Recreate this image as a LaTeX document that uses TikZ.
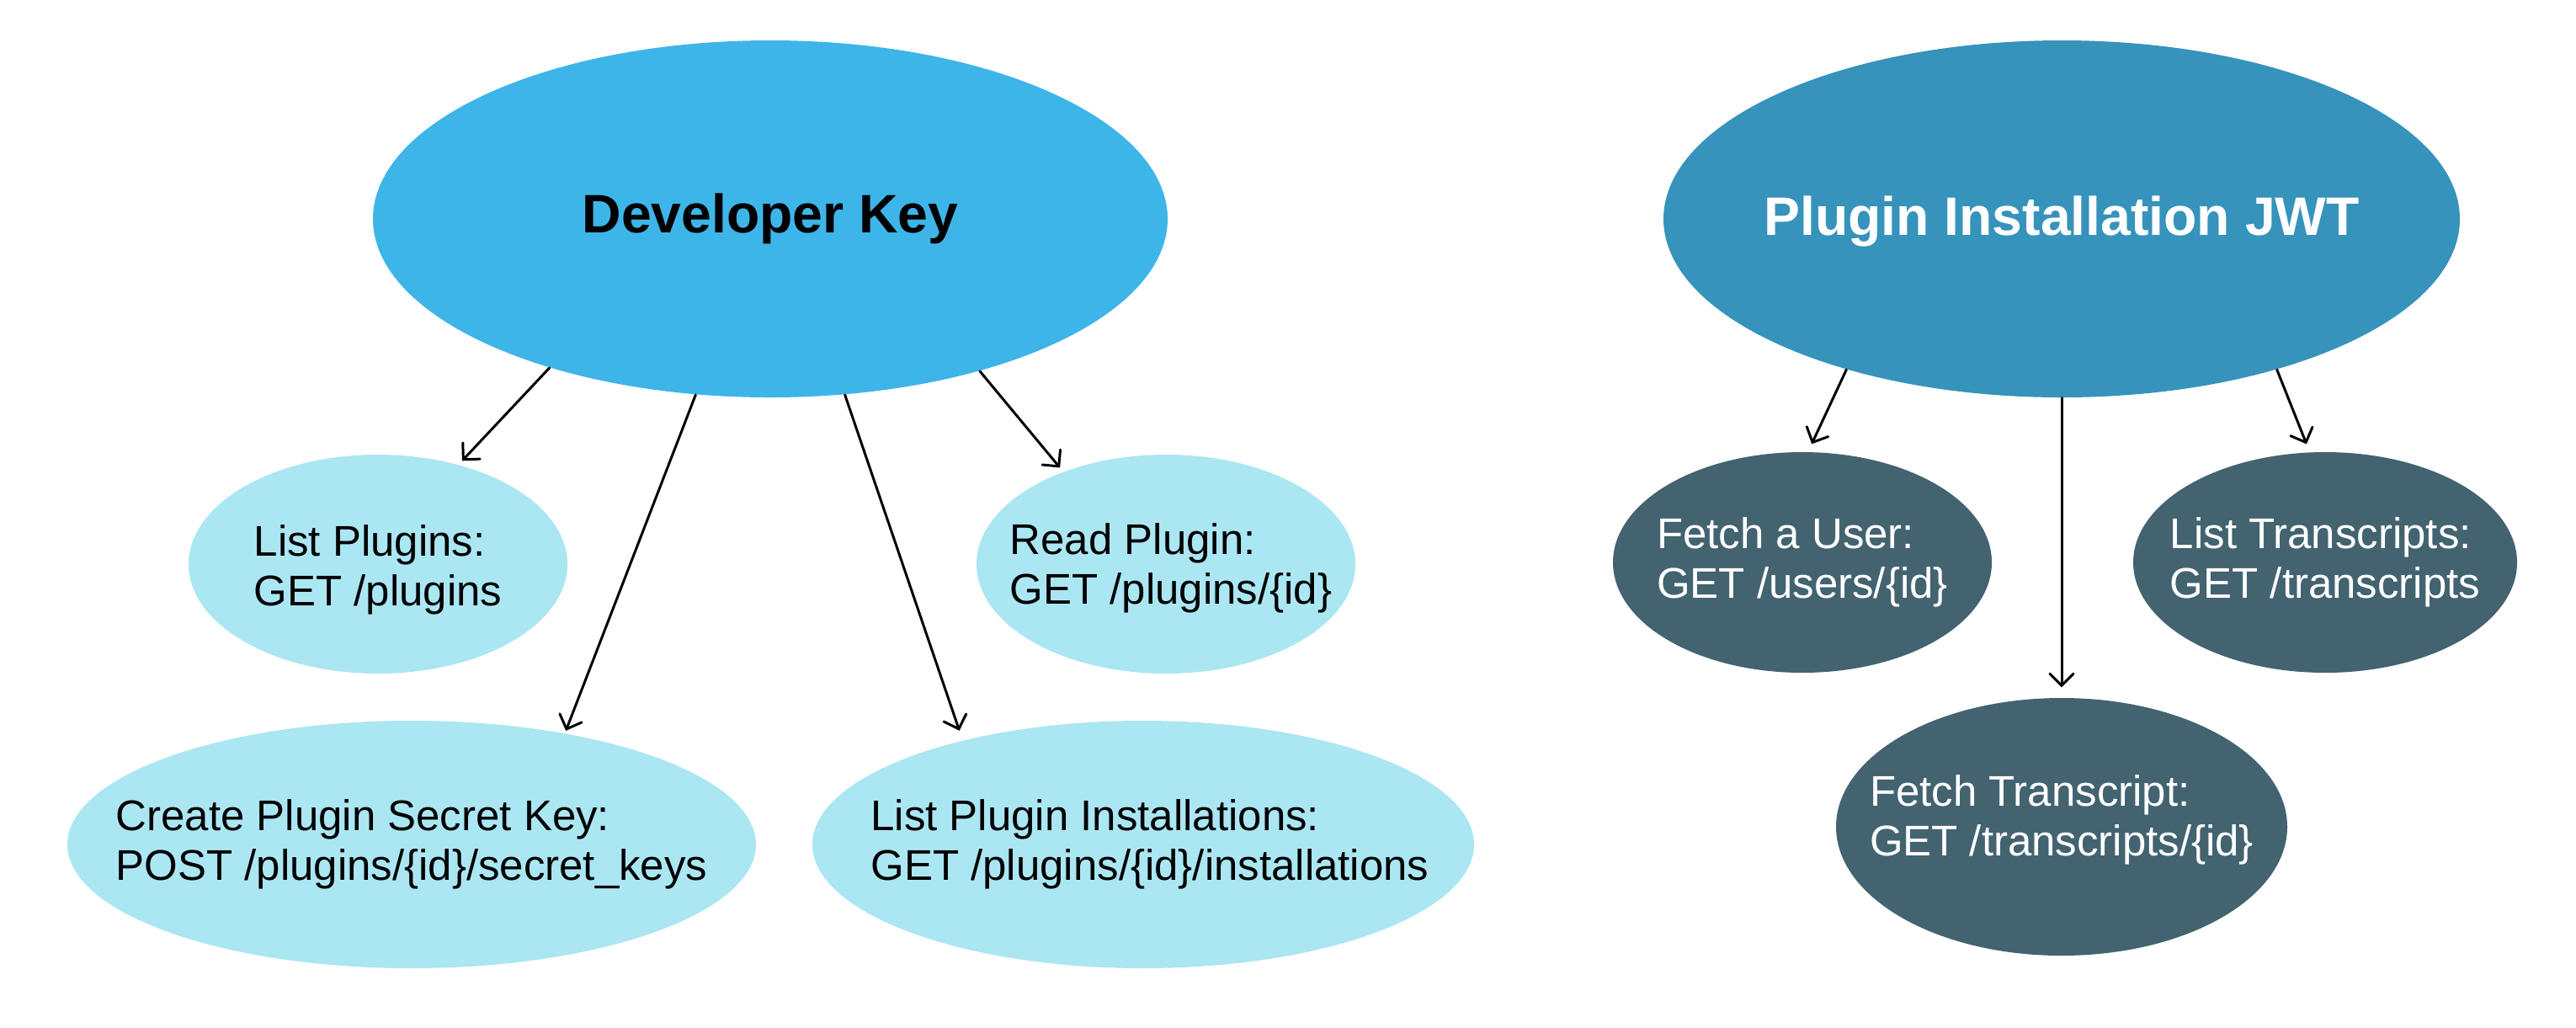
\documentclass[tikz,border=0pt]{standalone}
\usepackage{fontspec}
\setmainfont{Liberation Sans}
\usetikzlibrary{shapes.geometric,arrows.meta}
\definecolor{keyblue}{RGB}{62,181,233}
\definecolor{jwtblue}{RGB}{54,147,187}
\definecolor{lightnode}{RGB}{171,230,243}
\definecolor{darknode}{RGB}{67,99,112}
\tikzset{
  oval/.style={ellipse, draw=none, inner sep=0pt},
  bigtitle/.style={font=\fontsize{18.3}{22}\selectfont\bfseries},
  body/.style={align=left, inner sep=0pt, font=\fontsize{14.5}{16.8}\selectfont},
  arr/.style={draw=black, line width=0.85pt, line cap=round,
    -{Straight Barb[length=1.4mm, width=2.8mm, line cap=round]}}
}
\begin{document}
\begin{tikzpicture}
\useasboundingbox[fill=white] (0,0) rectangle (30.6,-12.2);

% top nodes
\node[oval, fill=keyblue, minimum width=9.44cm, minimum height=4.24cm] (dk) at (9.15,-2.60) {};
\node[bigtitle, text=black] (dkt) at (dk) {Developer Key};
\node[oval, fill=jwtblue, minimum width=9.46cm, minimum height=4.24cm] (jwt) at (24.49,-2.60) {};
\node[bigtitle, text=white] (jwtt) at ([yshift=-0.03cm]jwt.center) {Plugin Installation JWT};

% developer key children
\node[oval, fill=lightnode, minimum width=4.50cm, minimum height=2.60cm] (lp) at (4.49,-6.70) {};
\node[body, text=black] (lpt) at ([yshift=-0.07cm]lp.center) {List Plugins:\\GET /plugins};
\node[oval, fill=lightnode, minimum width=4.50cm, minimum height=2.60cm] (rp) at (13.85,-6.70) {};
\node[body, text=black] (rpt) at ([xshift=0.06cm,yshift=-0.05cm]rp.center) {Read Plugin:\\GET /plugins/\{id\}};
\node[oval, fill=lightnode, minimum width=8.18cm, minimum height=2.94cm] (cs) at (4.89,-10.03) {};
\node[body, text=black] (cst) at (cs) {Create Plugin Secret Key:\\POST /plugins/\{id\}/secret\_keys};
\node[oval, fill=lightnode, minimum width=7.86cm, minimum height=2.94cm] (lpi) at (13.58,-10.03) {};
\node[body, text=black] (lpit) at ([xshift=0.08cm]lpi.center) {List Plugin Installations:\\GET /plugins/\{id\}/installations};

% jwt children
\node[oval, fill=darknode, minimum width=4.50cm, minimum height=2.62cm] (fu) at (21.41,-6.68) {};
\node[body, text=white] (fut) at (fu) {Fetch a User:\\GET /users/\{id\}};
\node[oval, fill=darknode, minimum width=4.56cm, minimum height=2.62cm] (lt) at (27.62,-6.68) {};
\node[body, text=white] (ltt) at (lt) {List Transcripts:\\GET /transcripts};
\node[oval, fill=darknode, minimum width=5.36cm, minimum height=3.06cm] (ft) at (24.49,-9.82) {};
\node[body, text=white] (ftt) at ([yshift=0.08cm]ft.center) {Fetch Transcript:\\GET /transcripts/\{id\}};

% connectors
\draw[arr, shorten >=0.06cm] (dk.214) -- (lp.51);
\draw[arr, shorten >=0.06cm] (dk.324) -- (rp.138);
\draw[arr, shorten >=0.03cm] (dk.247) -- (cs.36);
\draw[arr, shorten >=0.12cm] (dk.293) -- (lpi.150);
\draw[arr, shorten >=0.10cm] (jwt.215) -- (fu.87);
\draw[arr, shorten >=0.10cm] (jwt.325) -- (lt.98);
\draw[arr, shorten >=0.12cm] (jwt.south) -- (ft.north);
\end{tikzpicture}
\end{document}
